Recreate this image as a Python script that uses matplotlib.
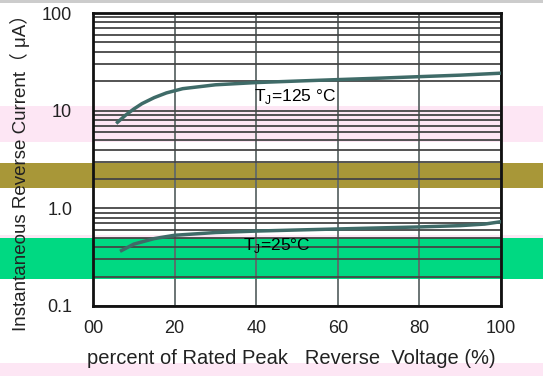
import numpy as np
import matplotlib.pyplot as plt
from matplotlib.patches import Rectangle

plt.rcParams['font.family'] = ['Liberation Sans', 'Noto Sans CJK SC', 'DejaVu Sans']
plt.rcParams['mathtext.fontset'] = 'custom'
plt.rcParams['mathtext.rm'] = 'Liberation Sans'

## data
pct_125 = [6, 8, 10, 12, 15, 18, 22, 30, 40, 50, 60, 70, 80, 90, 100]
ir_125 = [7.6, 9.0, 10.4, 11.8, 13.6, 15.2, 16.8, 18.4, 19.4, 20.1, 20.8, 21.5, 22.3, 23.1, 24.2]

pct_25 = [7, 10, 15, 20, 30, 40, 50, 60, 70, 80, 90, 96, 100]
ir_25 = [0.37, 0.43, 0.49, 0.53, 0.565, 0.585, 0.6, 0.615, 0.63, 0.645, 0.665, 0.69, 0.73]

xticks = [0, 20, 40, 60, 80, 100]
xticklabels = ['00', '20', '40', '60', '80', '100']
yticks = [0.1, 1.0, 10, 100]
yticklabels = ['0.1', '1.0', '10', '100']

W, H = 543, 376
fig = plt.figure(figsize=(W/100, H/100), dpi=100)

## colour bands seen across the picture (drawn behind everything)
bands = [(0, 3, '#cccccc'), (106, 142, '#fde6f4'), (163, 188, '#a89738'),
         (235, 238, '#fde6f4'), (238, 279, '#00d982'), (363, 376, '#fde6f4')]
for y0, y1, c in bands:
    fig.patches.append(Rectangle((0, 1 - y1/H), 1, (y1 - y0)/H, transform=fig.transFigure,
                                 facecolor=c, edgecolor='none', zorder=-10))

ax = fig.add_axes([93/W, 1 - 306/H, 408/W, 293/H])
ax.set_facecolor('none')
ax.set_yscale('log')
ax.set_xlim(0, 100)
ax.set_ylim(0.1, 100)

ax.grid(True, which='both', axis='y', color='#454545', lw=1.3)
ax.grid(True, which='major', axis='x', color='#5f6969', lw=1.3)
ax.set_xticks(xticks)
ax.set_xticklabels(xticklabels)
ax.set_yticks(yticks)
ax.set_yticklabels(yticklabels)
ax.tick_params(which='both', length=0, labelsize=13, colors='#222222')
ax.tick_params(axis='x', pad=10)
ax.tick_params(axis='y', pad=15)
ax.minorticks_on()
ax.tick_params(which='minor', length=0)
ax.xaxis.set_minor_locator(plt.NullLocator())
ax.yaxis.set_minor_formatter(plt.NullFormatter())
for s in ax.spines.values():
    s.set_linewidth(2)
    s.set_color('#111111')

ax.plot(pct_125, ir_125, color='#3f6b68', lw=2.5, zorder=3)
ax.plot(pct_25, ir_25, color='#3f6b68', lw=2.5, zorder=3)

ax.text(49.5, 14, r'T$_\mathregular{J}$=125 °C', fontsize=12.5, ha='center', va='center')
ax.text(45, 0.42, r'T$_\mathregular{J}$=25°C', fontsize=12.5, ha='center', va='center')

fig.text(291/W, 1 - 359/H, 'percent of Rated Peak   Reverse  Voltage (%)', fontsize=14.5,
         ha='center', va='center', color='#222222')
fig.text(20/W, 1 - 168/H, 'Instantaneous Reverse Current（ μA）', fontsize=13.5, rotation=90,
         ha='center', va='center', color='#222222')

plt.savefig('out.png', dpi=100)
